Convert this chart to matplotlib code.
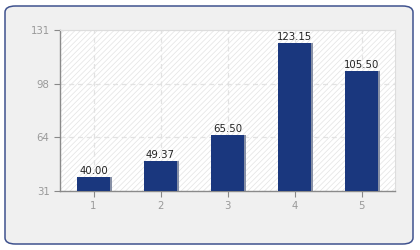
import matplotlib
matplotlib.use("Agg")
import matplotlib.pyplot as plt
from matplotlib.patches import FancyBboxPatch, Rectangle

categories = [1, 2, 3, 4, 5]
values = [40.00, 49.37, 65.50, 123.15, 105.50]
y_ticks = [31, 64.33, 97.67, 131]
y_labels = ["31", "64", "98", "131"]

plt.rcParams['hatch.linewidth'] = 0.5
plt.rcParams['font.family'] = ['DejaVu Sans']

fig = plt.figure(figsize=(4.2, 2.5), dpi=100)

# outer rounded panel (below the axes)
panel = FancyBboxPatch((5 / 420, 6 / 250), 408 / 420, 238 / 250,
                       boxstyle="round,pad=0,rounding_size=0.025",
                       transform=fig.transFigure, facecolor='#f0f0f0',
                       edgecolor='#3f528e', linewidth=1.1, zorder=-5)
fig.patches.append(panel)

ax = fig.add_axes([60 / 420, 1 - 191 / 250, 335 / 420, 161 / 250])
ax.set_facecolor('white')
ax.add_patch(Rectangle((0, 0), 1, 1, transform=ax.transAxes, facecolor='white',
                       edgecolor='#e3e3e3', hatch='//////', linewidth=0, zorder=0))

ax.set_xlim(0.5, 5.5)
ax.set_ylim(31, 131)

# shadow then bars
ax.bar([c + 0.02 for c in categories], [v - 31 for v in values], bottom=31,
       width=0.5, color='#8790a6', zorder=2)
ax.bar(categories, [v - 31 for v in values], bottom=31, width=0.5,
       color='#1a377e', zorder=3)

for c, v in zip(categories, values):
    ax.text(c, v + 0.6, f"{v:.2f}", ha='center', va='bottom', fontsize=7.3,
            color='#222222', zorder=4)

ax.set_xticks(categories)
ax.set_xticklabels([str(c) for c in categories])
ax.set_yticks(y_ticks)
ax.set_yticklabels(y_labels)

ax.grid(True, linestyle=(0, (4, 3)), color='#e2e2e2', linewidth=0.9, zorder=1)
ax.set_axisbelow(True)

ax.tick_params(axis='both', colors='#888888', labelcolor='#999999',
               labelsize=7.3, length=4, width=0.8)
for s in ['left', 'bottom']:
    ax.spines[s].set_color('#8a8a8a')
    ax.spines[s].set_linewidth(1.0)
for s in ['top', 'right']:
    ax.spines[s].set_color('#dddddd')
    ax.spines[s].set_linewidth(0.8)

fig.savefig('out.png', dpi=100)
